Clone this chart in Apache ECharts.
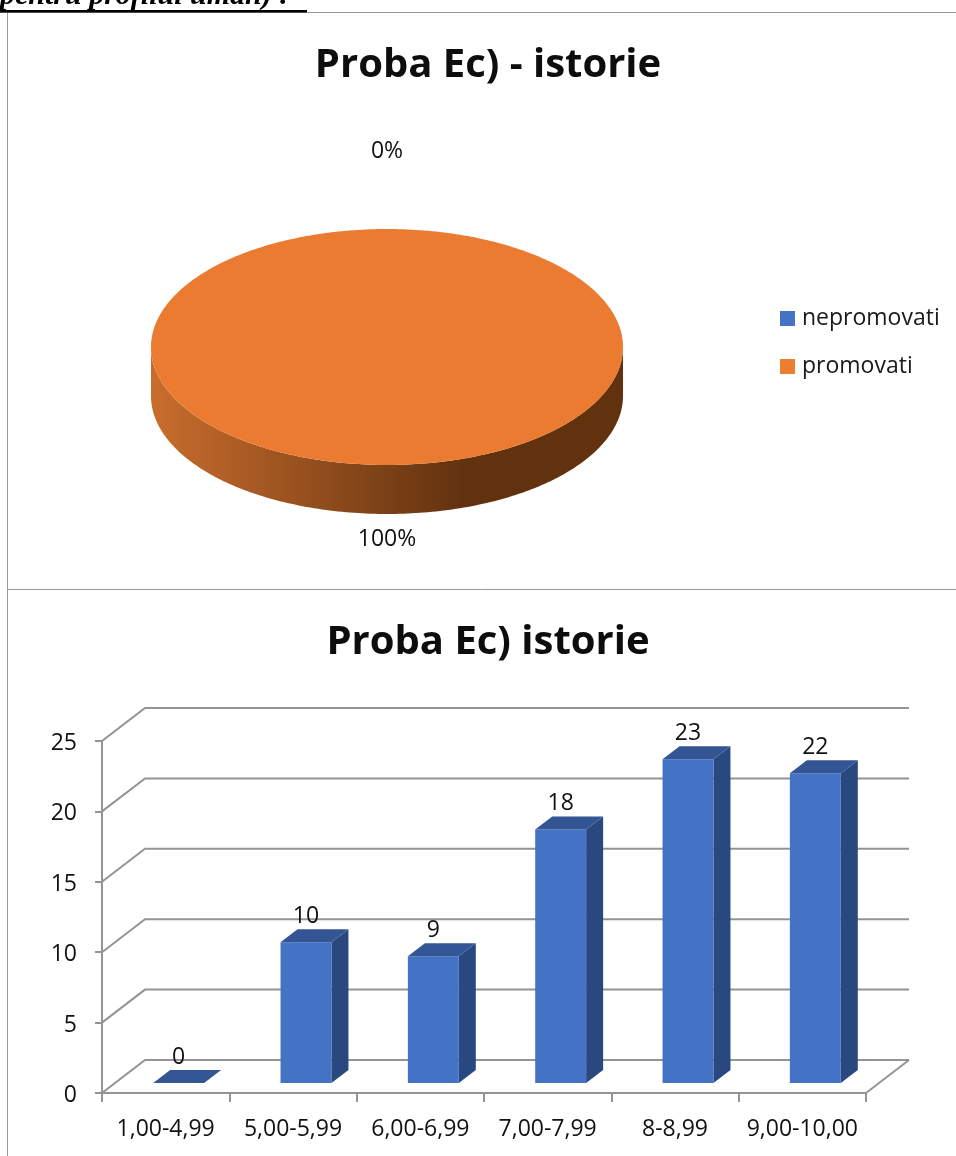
<!DOCTYPE html>
<html>
<head>
<meta charset="utf-8">
<style>html,body{margin:0;padding:0;background:#fff}#c{width:956px;height:1156px}</style>
<script src="https://cdn.jsdelivr.net/npm/echarts@6/dist/echarts.min.js"></script>
</head>
<body>
<div id="c"></div>
<script>
var pieTitle = 'Proba Ec) - istorie';
var barTitle = 'Proba Ec) istorie';
var pageHeading = 'pentru profilul uman) :';
var pieNames = ['nepromovati', 'promovati'];
var pieValues = [0, 100];
var categories = ['1,00-4,99', '5,00-5,99', '6,00-6,99', '7,00-7,99', '8-8,99', '9,00-10,00'];
var barValues = [0, 10, 9, 18, 23, 22];
var yTicks = [0, 5, 10, 15, 20, 25];

var FONT = '"Open Sans"';
var GRID_COLOR = '#949494';
var pieTotal = pieValues.reduce(function (a, b) { return a + b; }, 0);
var P = { cx: 387, cy: 347, rx: 236, ry: 118, depth: 49 };

function pieAngleRange(index) {
  var before = 0;
  for (var i = 0; i < index; i++) before += pieValues[i];
  return [before / pieTotal * 360, (before + pieValues[index]) / pieTotal * 360];
}
function ellPoint(deg, dy) {
  var r = deg * Math.PI / 180;
  return [P.cx + P.rx * Math.sin(r), P.cy + (dy || 0) - P.ry * Math.cos(r)];
}
function pieRender(index, topColor, labelY) {
  return function (params, api) {
    var value = api.value(0);
    var range = pieAngleRange(index);
    var children = [];
    var a, pts;
    if (value > 0) {
      var s = Math.max(range[0], 90), e = Math.min(range[1], 270);
      if (e > s) {
        pts = [];
        for (a = s; a <= e; a += 1) pts.push(ellPoint(a, 0));
        for (a = e; a >= s; a -= 1) pts.push(ellPoint(a, P.depth));
        children.push({
          type: 'polygon', shape: { points: pts },
          style: { fill: { type: 'linear', x: P.cx - P.rx, y: 0, x2: P.cx + P.rx, y2: 0, global: true,
            colorStops: [{ offset: 0, color: '#C96D2D' }, { offset: 0.66, color: '#62320F' }, { offset: 1, color: '#62320F' }] } }
        });
      }
      pts = [];
      var full = range[1] - range[0] >= 360;
      if (!full) pts.push([P.cx, P.cy]);
      for (a = range[0]; a <= range[1]; a += 1) pts.push(ellPoint(a, 0));
      children.push({ type: 'polygon', shape: { points: pts }, style: { fill: topColor } });
    }
    children.push({
      type: 'text',
      style: { x: P.cx, y: labelY, text: Math.round(value / pieTotal * 100) + '%', fill: '#111',
        font: '400 23px ' + FONT, textAlign: 'center', textVerticalAlign: 'middle' }
    });
    return { type: 'group', children: children };
  };
}

var DEPTH = [43, -33];
function gridRender(params, api) {
  var p = api.coord([0, api.value(0)]);
  var left = params.coordSys.x, right = left + params.coordSys.width;
  var y = p[1];
  var style = { stroke: GRID_COLOR, lineWidth: 2, fill: null };
  var children = [{
    type: 'polyline',
    shape: { points: [[left, y], [left + DEPTH[0], y + DEPTH[1]], [right + DEPTH[0], y + DEPTH[1]]] },
    style: style
  }];
  if (api.value(0) === 0) {
    children.push({ type: 'line', shape: { x1: right, y1: y, x2: right + DEPTH[0], y2: y + DEPTH[1] }, style: style });
  }
  return { type: 'group', children: children };
}
function barRender(params, api) {
  var idx = api.value(0), val = api.value(1);
  var base = api.coord([idx, 0]), top = api.coord([idx, val]);
  var w = api.size([1, 0])[0] * 0.4;
  var ox = 13, oy = -10, dx = 17, dy = -13;
  var x0 = base[0] + ox - w / 2, x1 = x0 + w;
  var yb = base[1] + oy, yt = top[1] + oy;
  var children = [];
  if (val > 0) {
    children.push({ type: 'polygon', shape: { points: [[x1, yb], [x1 + dx, yb + dy], [x1 + dx, yt + dy], [x1, yt]] }, style: { fill: '#2A4880' } });
    children.push({ type: 'rect', shape: { x: x0, y: yt, width: w, height: yb - yt }, style: { fill: '#4472C4' } });
  }
  children.push({ type: 'polygon', shape: { points: [[x0, yt], [x0 + dx, yt + dy], [x1 + dx, yt + dy], [x1, yt]] }, style: { fill: '#335593' } });
  children.push({
    type: 'text',
    style: { x: x0 + w / 2, y: yt - 26, text: String(val), fill: '#111', font: '400 23px ' + FONT,
      textAlign: 'center', textVerticalAlign: 'middle' }
  });
  return { type: 'group', children: children };
}

var chart = echarts.init(document.getElementById('c'), null, { renderer: 'canvas', width: 956, height: 1156 });
chart.setOption({
  animation: false,
  backgroundColor: '#fff',
  textStyle: { fontFamily: FONT },
  title: [
    { text: pieTitle, left: 483, top: 41, textAlign: 'center', textStyle: { fontFamily: FONT, fontSize: 40, fontWeight: 700, color: '#0d0d0d' } },
    { text: barTitle, left: 483, top: 618, textAlign: 'center', textStyle: { fontFamily: FONT, fontSize: 40, fontWeight: 700, color: '#0d0d0d' } }
  ],
  legend: {
    data: [
      { name: pieNames[0], itemStyle: { color: '#4472C4' } },
      { name: pieNames[1], itemStyle: { color: '#ED7D31' } }
    ],
    orient: 'vertical', left: 775, top: 302,
    itemWidth: 15, itemHeight: 15, itemGap: 25,
    icon: 'rect', selectedMode: false,
    textStyle: { fontFamily: FONT, fontSize: 23, color: '#1a1a1a', padding: [0, 0, 0, 2] }
  },
  grid: { left: 102, top: 741, width: 764, height: 352 },
  xAxis: {
    type: 'category', data: categories,
    axisLine: { lineStyle: { color: GRID_COLOR, width: 2 } },
    axisTick: { show: true, length: 9, interval: 0, lineStyle: { color: GRID_COLOR, width: 2 } },
    axisLabel: { color: '#111', fontFamily: FONT, fontSize: 23, margin: 25, interval: 0, hideOverlap: false },
    splitLine: { show: false }
  },
  yAxis: {
    type: 'value', min: 0, max: 25, interval: 5,
    axisLine: { show: true, lineStyle: { color: GRID_COLOR, width: 2 } },
    axisTick: { show: true, length: 7, lineStyle: { color: GRID_COLOR, width: 2 } },
    axisLabel: {
      color: '#111', fontFamily: FONT, fontSize: 23, margin: 25,
      formatter: '{a|{value}}',
      rich: { a: { color: '#111', fontFamily: FONT, fontSize: 23, padding: [5, 0, 0, 0] } }
    },
    splitLine: { show: false }
  },
  series: [
    { type: 'custom', name: pieNames[0], coordinateSystem: 'none', data: [[pieValues[0]]], silent: true,
      itemStyle: { color: '#4472C4' }, renderItem: pieRender(0, '#4472C4', 151) },
    { type: 'custom', name: pieNames[1], coordinateSystem: 'none', data: [[pieValues[1]]], silent: true,
      itemStyle: { color: '#ED7D31' }, renderItem: pieRender(1, '#EB7B30', 539) },
    { type: 'custom', name: 'grid', coordinateSystem: 'cartesian2d', silent: true, z: 1,
      data: yTicks.map(function (t) { return [t]; }), encode: { y: 0 }, renderItem: gridRender, clip: false },
    { type: 'custom', name: barTitle, coordinateSystem: 'cartesian2d', silent: true, z: 3,
      data: barValues.map(function (v, i) { return [i, v]; }), encode: { x: 0, y: 1 }, renderItem: barRender, clip: false }
  ],
  graphic: [
    { type: 'line', silent: true, z: 10, shape: { x1: 0, y1: 12.5, x2: 956, y2: 12.5 }, style: { stroke: '#999', lineWidth: 1 } },
    { type: 'line', silent: true, z: 10, shape: { x1: 7.5, y1: 12, x2: 7.5, y2: 1156 }, style: { stroke: '#999', lineWidth: 1 } },
    { type: 'line', silent: true, z: 10, shape: { x1: 7, y1: 589.5, x2: 956, y2: 589.5 }, style: { stroke: '#999', lineWidth: 1 } },
    { type: 'text', silent: true, z: 11, style: { x: 0, y: -4, text: pageHeading, fill: '#000',
        font: 'italic 700 30px "Liberation Serif"', textAlign: 'left', textVerticalAlign: 'middle' } },
    { type: 'rect', silent: true, z: 11, shape: { x: 0, y: 10, width: 307, height: 2.5 }, style: { fill: '#000' } }
  ]
});
</script>
</body>
</html>
